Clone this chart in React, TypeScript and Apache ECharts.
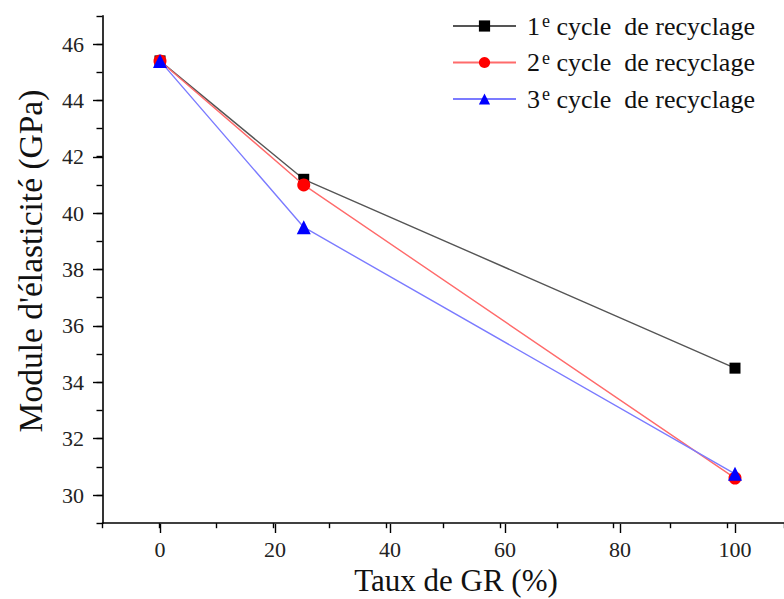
import React, { useEffect, useRef } from "react";
import * as echarts from "echarts";

const xValues = [0, 25, 100];
const cycle1 = [45.4, 41.2, 34.5];
const cycle2 = [45.4, 41.0, 30.6];
const cycle3 = [45.4, 39.5, 30.75];
const seriesNames = ["1e cycle de recyclage", "2e cycle de recyclage", "3e cycle de recyclage"];
const cycleNumbers = ["1", "2", "3"];
const xTitle = "Taux de GR (%)";
const yTitle = "Module d'élasticité (GPa)";

const FONT = "Liberation Serif";

export default function App() {
  const ref = useRef<HTMLDivElement>(null);
  useEffect(() => {
    if (!ref.current) return;
    const chart = echarts.init(ref.current, null, { renderer: "svg" });
    const pairs = (ys: number[]) => xValues.map((x, i) => [x, ys[i]]);
    const lineColors = ["#555555", "#ff6b6b", "#7b7bff"];
    const markColors = ["#000000", "#ff0000", "#0000ff"];
    const symbols = ["rect", "circle", "triangle"];
    const sizes = [11, 13, 14];
    const datasets = [cycle1, cycle2, cycle3];
    chart.setOption({
      animation: false,
      backgroundColor: "#ffffff",
      textStyle: { fontFamily: FONT },
      grid: [
        { left: 102.5, right: -8.5, top: 15.8, bottom: 75.8 },
        { left: 160, right: 49, top: 44, bottom: 104 },
      ],
      xAxis: [
        {
          gridIndex: 0,
          type: "value",
          min: -10,
          max: 110,
          interval: 10,
          axisLine: { show: true, onZero: false, lineStyle: { color: "#000", width: 1.6 } },
          axisTick: { show: true, length: 5, lineStyle: { color: "#000", width: 1.4 } },
          axisLabel: { show: false },
          splitLine: { show: false },
        },
        {
          gridIndex: 1,
          type: "value",
          min: 0,
          max: 100,
          interval: 20,
          offset: 29,
          axisLine: { show: false, onZero: false },
          axisTick: { show: true, length: 9, lineStyle: { color: "#000", width: 1.4 } },
          axisLabel: { show: true, margin: 14, fontSize: 22, color: "#222", fontFamily: FONT },
          splitLine: { show: false },
        },
      ],
      yAxis: [
        {
          gridIndex: 0,
          type: "value",
          min: 29,
          max: 47,
          interval: 1,
          axisLine: { show: true, onZero: false, lineStyle: { color: "#000", width: 1.6 } },
          axisTick: { show: true, length: 6, lineStyle: { color: "#000", width: 1.4 } },
          axisLabel: { show: false },
          splitLine: { show: false },
        },
        {
          gridIndex: 1,
          type: "value",
          min: 30,
          max: 46,
          interval: 2,
          offset: 57,
          axisLine: { show: false, onZero: false },
          axisTick: { show: true, length: 10, lineStyle: { color: "#000", width: 1.4 } },
          axisLabel: { show: true, margin: 19, fontSize: 22, color: "#222", fontFamily: FONT },
          splitLine: { show: false },
        },
      ],
      legend: {
        left: 452,
        top: 11,
        padding: 0,
        orient: "vertical",
        itemWidth: 63,
        itemHeight: 14,
        itemGap: 8.5,
        data: seriesNames,
        formatter: (name: string) => {
          const i = seriesNames.indexOf(name);
          return `{n|${cycleNumbers[i]}}{s|e}{t| cycle  de recyclage}`;
        },
        textStyle: {
          fontFamily: FONT,
          color: "#111",
          rich: {
            n: { fontSize: 26, lineHeight: 30, fontFamily: FONT, color: "#111", padding: [0, 0, 0, 6] },
            s: { fontSize: 18, lineHeight: 18, verticalAlign: "top", fontFamily: FONT, color: "#111", padding: [1, 0, 0, 2] },
            t: { fontSize: 26, lineHeight: 30, fontFamily: FONT, color: "#111" },
          },
        },
      },
      graphic: [
        {
          type: "text",
          x: 456,
          y: 580,
          style: {
            text: xTitle,
            font: `31px ${FONT}`,
            fill: "#111",
            textAlign: "center",
            textVerticalAlign: "middle",
          },
        },
        {
          type: "text",
          x: 30,
          y: 261,
          rotation: Math.PI / 2,
          style: {
            text: yTitle,
            font: `33.5px ${FONT}`,
            fill: "#111",
            textAlign: "center",
            textVerticalAlign: "middle",
          },
        },
      ],
      series: datasets.map((d, i) => ({
        name: seriesNames[i],
        type: "line",
        xAxisIndex: 1,
        yAxisIndex: 1,
        data: pairs(d),
        symbol: symbols[i],
        symbolSize: sizes[i],
        showSymbol: true,
        lineStyle: { color: lineColors[i], width: 1.4 },
        itemStyle: { color: markColors[i] },
        z: 2 + i,
      })),
    });
    return () => chart.dispose();
  }, []);
  return (
    <div
      ref={ref}
      style={{ position: "fixed", left: 0, top: 0, width: 784, height: 599, background: "#fff" }}
    />
  );
}
